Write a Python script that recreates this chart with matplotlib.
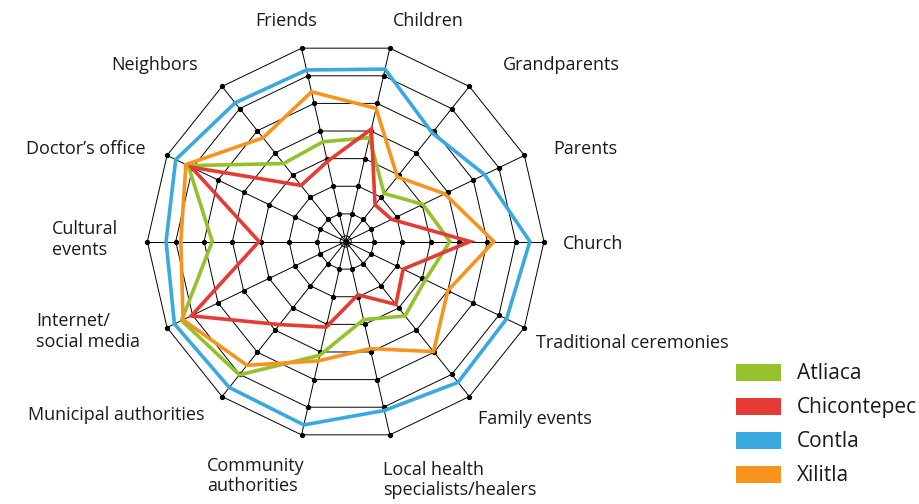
import numpy as np
import matplotlib
matplotlib.use("Agg")
import matplotlib.pyplot as plt
from matplotlib.patches import Rectangle, Polygon

# ---------------- data ----------------
categories = ["Church", "Parents", "Grandparents", "Children", "Friends",
              "Neighbors", "Doctor’s office", "Cultural\nevents",
              "Internet/\nsocial media", "Municipal authorities",
              "Community\nauthorities", "Local health\nspecialists/healers",
              "Family events", "Traditional ceremonies"]

series_names = ["Atliaca", "Chicontepec", "Contla", "Xilitla"]

atliaca = [3.68, 3.02, 2.17, 3.76, 3.61, 3.52, 6.17, 4.71, 6.43, 6.02, 4.12, 2.83, 3.36, 3.12]
chicontepec = [4.39, 1.80, 1.66, 4.07, 2.90, 2.53, 6.05, 3.06, 6.05, 3.75, 3.10, 1.93, 2.84, 2.25]
contla = [6.50, 5.44, 4.90, 6.24, 6.21, 6.26, 6.66, 6.34, 6.71, 6.59, 6.64, 6.12, 6.36, 6.30]
xilitla = [5.23, 3.88, 2.92, 4.82, 5.42, 4.68, 6.26, 5.82, 6.37, 5.59, 4.32, 3.88, 4.97, 4.00]

levels = [1, 2, 3, 4, 5, 6, 7]

# ---------------- style / layout ----------------
colors = ["#95C12B", "#E63B35", "#39A9DF", "#F7941D"]
W, H = 919, 504
cx, cy = 345.7, 241.5          # centre in pixels (from top)
unit = 28.33                    # pixels per level

# label layout: (x px, y px, horizontal alignment)
label_layout = [(563, 243.5, "left"), (553, 149.5, "left"), (503, 64.5, "left"),
                (393, 20.5, "left"), (317, 20.5, "right"), (198, 64.5, "right"),
                (146, 149.5, "right"), (52, 239.5, "left"), (36, 331.5, "left"),
                (205, 415.5, "right"), (207, 476, "left"), (383, 480, "left"),
                (478, 419.5, "left"), (536, 342.5, "left")]

font = ["Open Sans", "DejaVu Sans"]
plt.rcParams["font.family"] = font

fig = plt.figure(figsize=(W / 100, H / 100), dpi=100)
ax = fig.add_axes([0, 0, 1, 1])
ax.axis("off")
ax.set_xlim(-cx / unit, (W - cx) / unit)
ax.set_ylim(-(H - cy) / unit, cy / unit)

n = len(categories)
theta = np.deg2rad(np.arange(n) * 360.0 / n)
cos_t, sin_t = np.cos(theta), np.sin(theta)

# spokes
for c, s in zip(cos_t, sin_t):
    ax.plot([0, levels[-1] * c], [0, levels[-1] * s], color="black", lw=0.7, zorder=1)

# tiny central ring
rc = 0.2
ax.add_patch(Polygon(np.column_stack([rc * cos_t, rc * sin_t]), closed=True,
                     fill=False, edgecolor="black", lw=0.7, zorder=1))
ax.plot([0], [0], "o", color="black", ms=3.5, zorder=1)

# rings with dots
for lv in levels:
    ax.add_patch(Polygon(np.column_stack([lv * cos_t, lv * sin_t]), closed=True,
                         fill=False, edgecolor="black", lw=0.7, zorder=1))
    ax.plot(lv * cos_t, lv * sin_t, "o", color="black", ms=2.8, zorder=1)

# series
for name, vals, col in zip(series_names, [atliaca, chicontepec, contla, xilitla], colors):
    v = np.array(vals)
    ax.add_patch(Polygon(np.column_stack([v * cos_t, v * sin_t]), closed=True,
                         fill=False, edgecolor=col, lw=2.6, joinstyle="miter",
                         zorder=3))

# category labels
for lab, (lx, ly, ha) in zip(categories, label_layout):
    fig.text(lx / W, 1 - ly / H, lab, ha=ha, va="center", fontsize=13,
             color="#1a1a1a", linespacing=1.17, family=font)

# legend
leg_y = [372, 406, 440, 474]
for name, col, yy in zip(series_names, colors, leg_y):
    fig.add_artist(Rectangle((736 / W, 1 - (yy + 8.5) / H), 45 / W, 17 / H,
                             transform=fig.transFigure, facecolor=col,
                             edgecolor="none"))
    fig.text(797 / W, 1 - (yy + 1.5) / H, name, ha="left", va="center", fontsize=15,
             color="#1a1a1a", family=font)

fig.savefig("out.png", dpi=100)
